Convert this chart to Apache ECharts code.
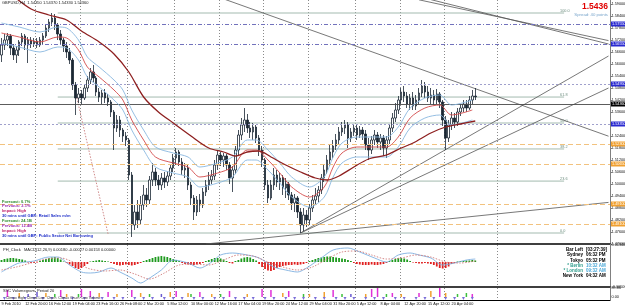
<!DOCTYPE html>
<html><head><meta charset="utf-8">
<script src="https://cdn.jsdelivr.net/npm/echarts@6/dist/echarts.min.js"></script>
<style>html,body{margin:0;padding:0;background:#fff;overflow:hidden}#c{width:625px;height:308px}</style>
</head><body><div id="c"></div>
<script>
// ---------- data ----------
const tickLabels = ["9 Feb 2010","12 Feb 20:00","16 Feb 12:00","19 Feb 04:00","23 Feb 16:00","26 Feb 08:00","2 Mar 20:00","5 Mar 12:00","10 Mar 00:00","12 Mar 16:00","17 Mar 04:00","19 Mar 20:00","24 Mar 12:00","29 Mar 04:00","31 Mar 20:00","5 Apr 12:00","8 Apr 04:00","12 Apr 20:00","15 Apr 12:00","20 Apr 04:00"];
const N_CATS = 206;            // bar slots incl. the empty chart-shift area
const gridLineCats = [12,27,43,59,74,89,104,120,135,150,168];

// [open, close, low, high]
const candles = [
[1.5645,1.5695,1.5610,1.5730],[1.5695,1.5720,1.5670,1.5750],[1.5720,1.5740,1.5690,1.5755],[1.5740,1.5680,1.5645,1.5750],
[1.5680,1.5645,1.5620,1.5700],[1.5645,1.5670,1.5605,1.5690],[1.5670,1.5710,1.5640,1.5720],[1.5710,1.5740,1.5690,1.5755],
[1.5740,1.5695,1.5670,1.5750],[1.5695,1.5720,1.5605,1.5735],[1.5720,1.5700,1.5680,1.5735],[1.5700,1.5715,1.5685,1.5730],
[1.5715,1.5695,1.5680,1.5730],[1.5695,1.5720,1.5685,1.5735],[1.5720,1.5740,1.5700,1.5755],[1.5740,1.5780,1.5730,1.5800],
[1.5780,1.5810,1.5760,1.5825],[1.5810,1.5830,1.5790,1.5855],[1.5830,1.5795,1.5770,1.5850],[1.5795,1.5750,1.5720,1.5805],
[1.5750,1.5720,1.5695,1.5770],[1.5720,1.5690,1.5660,1.5730],[1.5690,1.5660,1.5630,1.5710],[1.5660,1.5620,1.5600,1.5680],
[1.5620,1.5495,1.5470,1.5630],[1.5495,1.5430,1.5345,1.5510],[1.5430,1.5450,1.5405,1.5480],[1.5450,1.5430,1.5400,1.5470],
[1.5430,1.5480,1.5420,1.5495],[1.5480,1.5520,1.5460,1.5540],[1.5520,1.5560,1.5500,1.5580],[1.5560,1.5530,1.5510,1.5595],
[1.5530,1.5460,1.5440,1.5540],[1.5460,1.5435,1.5410,1.5480],[1.5435,1.5455,1.5400,1.5470],[1.5455,1.5430,1.5405,1.5475],
[1.5430,1.5410,1.5390,1.5450],[1.5410,1.5360,1.5335,1.5420],[1.5360,1.5280,1.5170,1.5370],[1.5280,1.5320,1.5260,1.5345],
[1.5320,1.5270,1.5235,1.5340],[1.5270,1.5240,1.5210,1.5280],[1.5240,1.5220,1.5190,1.5260],[1.5220,1.5045,1.5020,1.5230],
[1.5045,1.4795,1.4735,1.5060],[1.4795,1.4860,1.4770,1.4895],[1.4860,1.4820,1.4780,1.4920],[1.4820,1.4895,1.4800,1.4940],
[1.4895,1.4945,1.4870,1.4995],[1.4945,1.4920,1.4885,1.4980],[1.4920,1.5020,1.4900,1.5040],[1.5020,1.5060,1.4990,1.5105],
[1.5060,1.5020,1.4990,1.5080],[1.5020,1.4995,1.4970,1.5045],[1.4995,1.5030,1.4970,1.5055],[1.5030,1.5010,1.4980,1.5060],
[1.5010,1.5040,1.4990,1.5065],[1.5040,1.5080,1.5020,1.5095],[1.5080,1.5130,1.5060,1.5150],[1.5130,1.5160,1.5095,1.5180],
[1.5160,1.5110,1.5090,1.5170],[1.5110,1.5070,1.5045,1.5130],[1.5070,1.5080,1.5030,1.5105],[1.5080,1.4995,1.4970,1.5095],
[1.4995,1.4930,1.4895,1.5010],[1.4930,1.4860,1.4820,1.4945],[1.4860,1.4920,1.4840,1.4940],[1.4920,1.4895,1.4860,1.4950],
[1.4895,1.4960,1.4880,1.4980],[1.4960,1.4995,1.4940,1.5020],[1.4995,1.5020,1.4970,1.5060],[1.5020,1.5040,1.5000,1.5070],
[1.5040,1.5095,1.5020,1.5120],[1.5095,1.5145,1.5070,1.5170],[1.5145,1.5120,1.5090,1.5160],[1.5120,1.5140,1.5085,1.5155],
[1.5140,1.5095,1.5070,1.5150],[1.5095,1.5030,1.5000,1.5110],[1.5030,1.5070,1.4960,1.5090],[1.5070,1.5170,1.5050,1.5190],
[1.5170,1.5245,1.5145,1.5270],[1.5245,1.5295,1.5220,1.5330],[1.5295,1.5320,1.5260,1.5380],[1.5320,1.5280,1.5255,1.5350],
[1.5280,1.5260,1.5230,1.5310],[1.5260,1.5285,1.5220,1.5305],[1.5285,1.5230,1.5205,1.5295],[1.5230,1.5170,1.5140,1.5245],
[1.5170,1.5120,1.5085,1.5190],[1.5120,1.4995,1.4970,1.5130],[1.4995,1.4930,1.4905,1.5020],[1.4930,1.4995,1.4920,1.5020],
[1.4995,1.5045,1.4970,1.5080],[1.5045,1.5010,1.4985,1.5070],[1.5010,1.5030,1.4970,1.5055],[1.5030,1.4980,1.4945,1.5045],
[1.4980,1.5000,1.4930,1.5030],[1.5000,1.4945,1.4920,1.5010],[1.4945,1.4905,1.4870,1.4960],[1.4905,1.4930,1.4860,1.4950],
[1.4930,1.4860,1.4830,1.4940],[1.4860,1.4795,1.4755,1.4880],[1.4795,1.4845,1.4765,1.4880],[1.4845,1.4820,1.4785,1.4870],
[1.4820,1.4880,1.4795,1.4900],[1.4880,1.4920,1.4860,1.4945],[1.4920,1.4940,1.4895,1.4980],[1.4940,1.4970,1.4910,1.4990],
[1.4970,1.5030,1.4950,1.5050],[1.5030,1.5070,1.5010,1.5095],[1.5070,1.5120,1.5050,1.5145],[1.5120,1.5160,1.5090,1.5195],
[1.5160,1.5190,1.5130,1.5220],[1.5190,1.5220,1.5170,1.5250],[1.5220,1.5260,1.5195,1.5285],[1.5260,1.5280,1.5240,1.5310],
[1.5280,1.5295,1.5250,1.5320],[1.5295,1.5230,1.5180,1.5310],[1.5230,1.5260,1.5210,1.5280],[1.5260,1.5280,1.5240,1.5300],
[1.5280,1.5245,1.5220,1.5295],[1.5245,1.5270,1.5230,1.5290],[1.5270,1.5250,1.5220,1.5285],[1.5250,1.5195,1.5170,1.5270],
[1.5195,1.5170,1.5120,1.5230],[1.5170,1.5220,1.5150,1.5240],[1.5220,1.5245,1.5195,1.5270],[1.5245,1.5210,1.5180,1.5260],
[1.5210,1.5230,1.5170,1.5250],[1.5230,1.5180,1.5140,1.5245],[1.5180,1.5220,1.5130,1.5240],[1.5220,1.5280,1.5200,1.5300],
[1.5280,1.5330,1.5260,1.5355],[1.5330,1.5370,1.5310,1.5405],[1.5370,1.5420,1.5350,1.5440],[1.5420,1.5460,1.5400,1.5480],
[1.5460,1.5440,1.5410,1.5490],[1.5440,1.5400,1.5380,1.5460],[1.5400,1.5430,1.5370,1.5450],[1.5430,1.5390,1.5370,1.5460],
[1.5390,1.5420,1.5370,1.5445],[1.5420,1.5455,1.5400,1.5480],[1.5455,1.5490,1.5435,1.5520],[1.5490,1.5460,1.5430,1.5510],
[1.5460,1.5430,1.5410,1.5490],[1.5430,1.5445,1.5400,1.5480],[1.5445,1.5420,1.5395,1.5470],[1.5420,1.5450,1.5400,1.5475],
[1.5450,1.5410,1.5380,1.5460],[1.5410,1.5320,1.5290,1.5420],[1.5320,1.5230,1.5170,1.5340],[1.5230,1.5295,1.5210,1.5320],
[1.5295,1.5330,1.5270,1.5360],[1.5330,1.5310,1.5280,1.5355],[1.5310,1.5360,1.5290,1.5380],[1.5360,1.5380,1.5340,1.5400],
[1.5380,1.5400,1.5360,1.5420],[1.5400,1.5380,1.5360,1.5420],[1.5380,1.5420,1.5370,1.5440],[1.5420,1.5440,1.5400,1.5470],
[1.5440,1.5436,1.5420,1.5480]
];

// moving averages read as [barIndex, price]
const maSlow = [[4,1.5940],[10,1.5875],[16,1.5845],[22,1.5820],[27,1.5765],[33,1.5710],[38,1.5650],[43,1.5560],[48,1.5435],[53,1.5360],[58,1.5305],[64,1.5240],[70,1.5180],[75,1.5160],[79,1.5140],[83,1.5160],[87,1.5165],[91,1.5135],[96,1.5095],[101,1.5060],[106,1.5030],[110,1.5020],[114,1.5040],[119,1.5085],[124,1.5125],[130,1.5145],[135,1.5180],[139,1.5205],[145,1.5255],[150,1.5285],[155,1.5300],[160,1.5315]];
const maFast = [[0,1.5755],[6,1.5735],[13,1.5710],[19,1.5735],[22,1.5730],[26,1.5670],[29,1.5585],[33,1.5535],[38,1.5470],[41,1.5420],[44,1.5320],[48,1.5220],[52,1.5135],[58,1.5105],[63,1.5085],[67,1.5035],[73,1.5055],[78,1.5085],[83,1.5170],[86,1.5170],[90,1.5120],[94,1.5055],[98,1.4985],[104,1.4935],[109,1.4985],[112,1.5085],[115,1.5155],[120,1.5185],[125,1.5185],[130,1.5185],[134,1.5235],[138,1.5330],[143,1.5380],[148,1.5395],[152,1.5345],[159,1.5370]];
const bandUpper = [[0,1.5805],[6,1.5785],[13,1.5760],[19,1.5785],[22,1.5780],[26,1.5720],[29,1.5635],[33,1.5585],[38,1.5520],[41,1.5470],[44,1.5370],[48,1.5270],[52,1.5185],[58,1.5155],[63,1.5135],[67,1.5085],[73,1.5105],[78,1.5135],[83,1.5220],[86,1.5220],[90,1.5170],[94,1.5105],[98,1.5035],[104,1.4985],[109,1.5035],[112,1.5135],[115,1.5205],[120,1.5235],[125,1.5235],[130,1.5235],[134,1.5285],[138,1.5380],[143,1.5430],[148,1.5445],[152,1.5395],[159,1.5420]];
const bandLower = [[0,1.5705],[6,1.5685],[13,1.5660],[19,1.5685],[22,1.5680],[26,1.5620],[29,1.5535],[33,1.5485],[38,1.5420],[41,1.5370],[44,1.5270],[48,1.5170],[52,1.5085],[58,1.5055],[63,1.5035],[67,1.4985],[73,1.5005],[78,1.5035],[83,1.5120],[86,1.5120],[90,1.5070],[94,1.5005],[98,1.4935],[104,1.4885],[109,1.4935],[112,1.5035],[115,1.5105],[120,1.5135],[125,1.5135],[130,1.5135],[134,1.5185],[138,1.5280],[143,1.5330],[148,1.5345],[152,1.5295],[159,1.5320]];

// drawn objects
const trendLines = [
 [[70,1.5952],[205,1.5239]],
 [[141,1.5921],[205,1.5717]],
 [[145,1.5922],[205,1.5700]],
 [[101,1.4755],[205,1.5640]],
 [[101,1.4755],[205,1.5480]],
 [[69,1.4700],[205,1.4908]]
];
const dottedDiagonal = [[25,1.5460],[36,1.4750]];
const fibHigh = 1.5855, fibLow = 1.4755, fibStart = 19, fibEnd = 190;
const fibLevels = [0, 23.6, 38.2, 50, 61.8, 100];
const dashDotLevels = [1.5755, 1.5655];
const dottedLevels = [1.5495, 1.5335];
const orangeLevels = [1.5230, 1.5065, 1.4910, 1.4810];
const bidPrice = 1.5436;

// MACD window
const macdHist = [
0.0004,0.0006,0.0007,0.0008,0.0008,0.0007,0.0006,0.0005,0.0003,
-0.0001,-0.0002,-0.0002,-0.0001,
0.0002,0.0004,0.0006,0.0008,0.0009,0.0010,0.0008,0.0005,
0.0001,
-0.0002,-0.0005,-0.0008,-0.0012,-0.0014,-0.0012,-0.0008,-0.0004,
0.0001,0.0002,0.0003,0.0004,0.0003,0.0002,0.0001,
-0.0002,-0.0004,-0.0006,-0.0007,-0.0006,-0.0005,-0.0006,-0.0007,-0.0006,-0.0004,-0.0002,
0.0002,0.0004,0.0006,0.0008,0.0010,0.0011,0.0012,0.0011,0.0010,0.0008,0.0006,0.0004,0.0002,
-0.0002,-0.0004,-0.0005,-0.0006,-0.0006,-0.0005,-0.0004,-0.0002,
0.0002,0.0004,0.0006,0.0008,0.0008,0.0007,0.0005,0.0002,
-0.0002,-0.0003,
0.0002,0.0004,0.0007,0.0009,0.0010,0.0009,0.0006,0.0003,
-0.0004,-0.0010,-0.0014,-0.0017,-0.0018,-0.0016,-0.0012,-0.0010,-0.0008,-0.0007,-0.0006,-0.0006,-0.0005,-0.0006,-0.0005,-0.0004,-0.0002,
0.0002,0.0004,0.0006,0.0008,0.0009,0.0010,0.0011,0.0011,0.0010,0.0009,0.0008,0.0007,0.0006,0.0004,0.0002,
-0.0002,-0.0004,-0.0005,-0.0006,-0.0006,-0.0006,-0.0005,-0.0006,-0.0006,-0.0005,-0.0004,-0.0002,
0.0002,0.0004,0.0006,0.0008,0.0008,0.0007,0.0005,0.0002,
-0.0001,-0.0002,-0.0003,-0.0003,-0.0002,-0.0003,-0.0004,
-0.0006,-0.0009,-0.0012,-0.0013,-0.0012,-0.0009,-0.0004,-0.0002,
0.0001,0.0002,0.0002,0.0003,0.0003,0.0004,0.0003
];
const macdMain = [[0,-0.0020],[3,-0.0010],[6,-0.0002],[11,0.0002],[16,0.0010],[19,0.0010],[23,-0.0006],[27,-0.0020],[30,-0.0022],[33,-0.0020],[37,-0.0012],[40,-0.0020],[44,-0.0032],[47,-0.0042],[49,-0.0036],[54,-0.0016],[58,0.0004],[63,-0.0002],[67,-0.0012],[71,0.0000],[74,0.0014],[78,0.0018],[83,0.0014],[87,0.0008],[92,-0.0010],[96,-0.0016],[100,-0.0020],[103,-0.0012],[108,0.0008],[112,0.0024],[117,0.0028],[121,0.0020],[126,0.0008],[130,0.0000],[134,0.0014],[138,0.0018],[141,0.0014],[145,0.0008],[149,-0.0006],[153,-0.0002],[157,0.0004],[160,0.0006]];
const macdSignal = [[0,-0.0016],[5,-0.0010],[10,-0.0002],[15,0.0006],[20,0.0008],[25,-0.0002],[30,-0.0014],[35,-0.0018],[40,-0.0016],[45,-0.0024],[50,-0.0034],[55,-0.0022],[60,-0.0006],[65,-0.0004],[70,-0.0006],[75,0.0004],[80,0.0014],[85,0.0012],[90,0.0000],[95,-0.0010],[100,-0.0016],[105,-0.0010],[110,0.0006],[115,0.0020],[120,0.0022],[125,0.0014],[130,0.0006],[135,0.0008],[140,0.0014],[145,0.0010],[150,0.0000],[155,-0.0002],[160,0.0002]];

// volume window: [barIndex, value, kind]
const volSpikes = [[2,70,'m'],[6,40,'o'],[9,30,'b'],[12,50,'b'],[15,40,'o'],[18,30,'g'],[20,70,'m'],[22,30,'o'],[26,30,'g'],[27,80,'m'],[30,60,'m'],[33,40,'o'],[36,50,'m'],[39,30,'o'],[44,70,'m'],[47,40,'o'],[50,30,'g'],[54,30,'b'],[57,50,'o'],[59,60,'m'],[63,40,'o'],[64,30,'g'],[67,50,'m'],[71,30,'o'],[74,30,'g'],[77,60,'m'],[83,30,'o'],[88,80,'m'],[91,70,'m'],[95,40,'o'],[97,60,'m'],[102,30,'g'],[104,30,'o'],[109,50,'o'],[112,70,'m'],[115,30,'g'],[118,30,'b'],[123,30,'o'],[125,80,'m'],[127,90,'m'],[130,30,'g'],[132,40,'m'],[135,30,'o'],[141,40,'m'],[145,60,'o'],[148,90,'m'],[150,40,'o'],[154,30,'g'],[157,40,'g'],[159,30,'m']];
const volArrows = [1,4,8,11,14,17,21,24,28,31,34,38,41,45,48,51,55,58,61,65,68,72,75,79,82,85,89,92,96,99,102,106,109,113,116,119,123,126,129,133,136,140,143,146,150,153,156,159];

// texts
const headerText = 'GBPUSD,H4  1.54350 1.54370 1.54330 1.54360';
const newsLines = [
 ['Forecast: 0.7%','#2a8a2a'],['Previous: 2.1%','#9a2ab0'],['Impact: High','#c0206a'],['30 mins until GBP: Retail Sales m/m','#1e2ec8'],
 ['Forecast: 24.1B','#2a8a2a'],['Previous: 12.4B','#9a2ab0'],['Impact: High','#c0206a'],['30 mins until GBP: Public Sector Net Borrowing','#1e2ec8']
];
const clockRows = [
 ['Bar Left','[03:27:39]','#000','#000'],['Sydney','06:32 PM','#000','#000'],['Tokyo','05:32 PM','#000','#000'],
 ['* Berlin','10:32 AM','#2e9c8c','#4aa8d8'],['* London','09:32 AM','#2e9c8c','#4aa8d8'],['New York','04:32 AM','#000','#000']
];

// ---------- chart ----------
const FONT = '"Liberation Sans", Arial, sans-serif';
const categories = [];
for (let i = 0; i < N_CATS; i++) categories.push(String(i));
const volColors = {m:'#e030d8', o:'#f0a030', g:'#3cc03c', b:'#6a5ad0'};

function hLine(v, color, type, bg, w) {
  return {yAxis: v, lineStyle: {color: color, type: type, width: w || 1},
    label: {show: true, position: 'end', distance: 1, formatter: () => v.toFixed(5), fontSize: 3.8, fontFamily: FONT,
      color: '#fff', backgroundColor: bg, padding: [0.5, 1]}};
}
const marks = [];
dashDotLevels.forEach(v => marks.push(hLine(v, '#7272bc', [4,2,1,2], '#2a2ad0')));
dottedLevels.forEach(v => marks.push(hLine(v, '#a0a0cc', [2,2], '#2a2ad0')));
orangeLevels.forEach(v => marks.push(hLine(v, '#f2c27e', [5,3], '#f0a030')));
marks.push(hLine(bidPrice, '#4a4a4a', 'solid', '#000', 0.9));

const series = [];
series.push({type:'candlestick', xAxisIndex:0, yAxisIndex:0, data:candles, barWidth:2, silent:true, z:4,
  itemStyle:{color:'#ffffff', color0:'#1b2733', borderColor:'#1b2733', borderColor0:'#1b2733', borderWidth:0.8},
  markLine:{symbol:['none','none'], silent:true, animation:false, data:marks}});

fibLevels.forEach(l => {
  const p = fibLow + (fibHigh - fibLow) * l / 100;
  series.push({type:'line', xAxisIndex:0, yAxisIndex:0, data:[[fibStart,p],[fibEnd,p]], symbol:'none', silent:true, z:2,
    lineStyle:{color:'#a3baaf', width:1},
    endLabel:{show:true, formatter: l.toFixed(1), fontSize:3.8, fontFamily:FONT, color:'#6f8f80', offset:[-12,-2.5]}});
});
trendLines.forEach(t => series.push({type:'line', xAxisIndex:0, yAxisIndex:0, data:t, symbol:'none', silent:true, z:3,
  lineStyle:{color:'#555', width:0.8}}));
series.push({type:'line', xAxisIndex:0, yAxisIndex:0, data:dottedDiagonal, symbol:'none', silent:true, z:3,
  lineStyle:{color:'#d08a8a', width:1, type:[1.5,1.5]}});
series.push({type:'line', xAxisIndex:0, yAxisIndex:0, data:bandUpper, symbol:'none', smooth:0.3, silent:true, z:5, lineStyle:{color:'#8ab8e0', width:0.9}});
series.push({type:'line', xAxisIndex:0, yAxisIndex:0, data:bandLower, symbol:'none', smooth:0.3, silent:true, z:5, lineStyle:{color:'#8ab8e0', width:0.9}});
series.push({type:'line', xAxisIndex:0, yAxisIndex:0, data:maFast, symbol:'none', smooth:0.3, silent:true, z:5, lineStyle:{color:'#d44a4a', width:0.9}});
series.push({type:'line', xAxisIndex:0, yAxisIndex:0, data:maSlow, symbol:'none', smooth:0.3, silent:true, z:6, lineStyle:{color:'#8e2020', width:1.3}});

series.push({type:'bar', xAxisIndex:1, yAxisIndex:1, data:macdHist, barWidth:1.8, silent:true,
  itemStyle:{color: p => p.value >= 0 ? '#1e9a1e' : '#e02020'}});
series.push({type:'line', xAxisIndex:1, yAxisIndex:1, data:macdMain, symbol:'none', smooth:0.3, silent:true, lineStyle:{color:'#7fb0e0', width:0.9}});
series.push({type:'line', xAxisIndex:1, yAxisIndex:1, data:macdSignal, symbol:'none', smooth:0.3, silent:true, lineStyle:{color:'#d07a7a', width:0.9, type:[1.5,1.5]}});

series.push({type:'bar', xAxisIndex:2, yAxisIndex:2, barWidth:1.5, silent:true,
  data: volSpikes.map(s => ({value:[s[0], s[1]], itemStyle:{color: volColors[s[2]]}}))});
series.push({type:'scatter', xAxisIndex:2, yAxisIndex:2, silent:true, symbol:'triangle', symbolRotate:180, symbolSize:3,
  itemStyle:{color:'#5a4ad0'}, data: volArrows.map(c => [c, -15])});

const xAxes = [0,1,2].map(g => ({
  type:'category', gridIndex:g, data:categories, boundaryGap:true,
  axisLine:{show:true, onZero:false, lineStyle:{color:'#000', width: g === 2 ? 1 : 1.5}},
  axisTick:{show:false},
  axisLabel: g === 2 ? {show:true, interval:(i) => i % 8 === 0 && i / 8 < tickLabels.length,
      formatter:(v, i) => tickLabels[i / 8] || '', align:'left', fontSize:3.8, fontFamily:FONT, color:'#111', margin:2}
    : {show:false},
  splitLine:{show:true, interval:(i) => gridLineCats.indexOf(i) >= 0, lineStyle:{color:'#8a8a8a', type:[1,2], width:1}}
}));

const yAxes = [
  {type:'value', gridIndex:0, position:'right', min:1.470, max:1.592, interval:0.006,
   axisLine:{show:true, lineStyle:{color:'#808080'}}, axisTick:{show:true, length:2, lineStyle:{color:'#808080'}},
   axisLabel:{fontSize:3.8, fontFamily:FONT, color:'#111', margin:1.5, showMaxLabel:false, formatter:v => v.toFixed(5)},
   splitLine:{show:false}},
  {type:'value', gridIndex:1, position:'right', min:-0.005, max:0.0034, interval:0.0084,
   axisLine:{show:true, lineStyle:{color:'#808080'}}, axisTick:{show:false},
   axisLabel:{fontSize:3.8, fontFamily:FONT, color:'#111', margin:1.5, formatter:v => v.toFixed(5)},
   splitLine:{show:false}},
  {type:'value', gridIndex:2, position:'right', min:-30, max:90, interval:30,
   axisLine:{show:true, lineStyle:{color:'#808080'}}, axisTick:{show:false},
   axisLabel:{fontSize:3.8, fontFamily:FONT, color:'#111', margin:1.5, formatter:v => v === 90 ? '89.88' : (v === 0 ? '0.00' : '')},
   splitLine:{show:false}}
];

function txt(x, y, text, size, color, align, bold) {
  return {type:'text', x:x, y:y, z:100, silent:true,
    style:{text:text, font:(bold ? 'bold ' : '') + size + 'px ' + FONT, fill:color, align:align || 'left', verticalAlign:'middle'}};
}
const graphics = [];
graphics.push(txt(2, 3, headerText, 4, '#222'));
graphics.push(txt(608, 7, String(bidPrice), 8.5, '#e00000', 'right', true));
graphics.push(txt(608, 14.5, 'Spread: 40 points', 4.3, '#7aa6cc', 'right'));
newsLines.forEach((n, k) => graphics.push(txt(2, 201.5 + k * 4.85, n[0], 4, n[1], 'left', true)));
graphics.push(txt(3, 249.5, 'PH_Clock', 4, '#222'));
graphics.push(txt(24, 249.5, 'MACD(12,26,9) 0.00180 -0.00027 0.00153 0.00000', 4, '#222'));
clockRows.forEach((r, k) => {
  graphics.push(txt(583, 250 + k * 5.2, r[0], 4.5, r[2], 'right', true));
  graphics.push(txt(586, 250 + k * 5.2, r[1], 4.5, r[3], 'left', true));
});
graphics.push(txt(3, 290.5, 'SVC Volumegram, Period 20', 4, '#222'));
graphics.push(txt(6, 298.5, 'Climax High  Climax Low  Churn  Climax Churn  Low Volume', 3.5, '#333'));

const option = {
  animation:false, backgroundColor:'#ffffff', textStyle:{fontFamily:FONT},
  grid:[
    {left:0, right:15, top:0, height:244, outerBoundsMode:'none'},
    {left:0, right:15, top:245, height:42, outerBoundsMode:'none'},
    {left:0, right:15, top:288, height:12, outerBoundsMode:'none'}
  ],
  xAxis:xAxes, yAxis:yAxes, series:series, graphic:graphics
};
const chart = echarts.init(document.getElementById('c'), null, {renderer:'canvas'});
chart.setOption(option);
</script></body></html>
